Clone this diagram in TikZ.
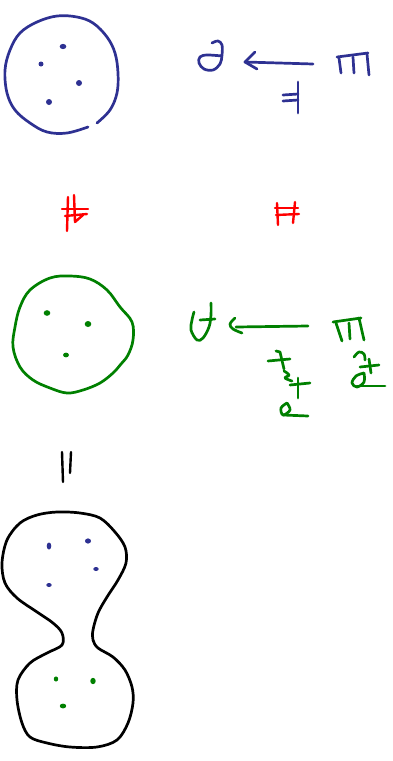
\documentclass[tikz,border=0pt]{standalone}
\definecolor{inkblue}{RGB}{46,49,146}
\definecolor{inkgreen}{RGB}{0,128,0}
\definecolor{inkred}{RGB}{255,0,0}
\begin{document}
\begin{tikzpicture}[x=1pt,y=-1pt,
  ink/.style={line width=2.7pt,line cap=round,line join=round},
  thinink/.style={line width=2.4pt,line cap=round,line join=round}]
\useasboundingbox (0,0) rectangle (393,761);
% ---------- blue set ----------
\draw[ink,inkblue] plot[smooth,tension=0.6] coordinates {(97,123) (110,110) (117,93) (118,73) (115,53) (107,37) (93,23) (77,17) (57,16) (37,22) (20,33) (10,50) (5,70) (7,93) (15,110) (30,123) (47,132) (67,133) (88,127)};
\fill[inkblue] (63,46.5) ellipse[x radius=3.3pt,y radius=2.6pt];
\fill[inkblue] (41,64) circle[radius=2.5pt];
\fill[inkblue] (79,83) circle[radius=3pt];
\fill[inkblue] (49,102) circle[radius=3pt];
% blue label
\draw[ink,inkblue] plot[smooth,tension=0.6] coordinates {(212,43) (218,41) (222,45) (222,55) (220,64) (213,70) (204,69) (199,63) (200,57) (207,55) (222,56)};
\coordinate (bs) at (313,64);
\coordinate (bt) at (245,62);
\draw[ink,inkblue] (bs) -- (bt);
\draw[ink,inkblue] (255,52) -- (bt) -- (257,69);
\draw[ink,inkblue] (337,57) -- (368,53);
\draw[ink,inkblue] (339,58) -- (341,73);
\draw[ink,inkblue] (353,57) -- (354,73);
\draw[ink,inkblue] (367,54) -- (369,75);
\draw[ink,inkblue] (298,82) -- (298,113);
\draw[ink,inkblue] (283,95) -- (298,94);
\draw[ink,inkblue] (283,101) -- (298,100);
% ---------- red hashes ----------
\draw[thinink,inkred] (68,197) -- (67,231);
\draw[thinink,inkred] (74,195) -- (75,222) -- (83,215);
\draw[thinink,inkred] (62,209) -- (88,209);
\draw[thinink,inkred] (65,216) -- (87,214);
\draw[thinink,inkred] (277,203) -- (278,225);
\draw[thinink,inkred] (295,202) -- (293,223);
\draw[thinink,inkred] (275,208) -- (298,208);
\draw[thinink,inkred] (276,215) -- (299,214);
% ---------- green set ----------
\draw[ink,inkgreen] plot[smooth cycle,tension=0.6] coordinates {(50,278) (70,276) (90,279) (107,290) (120,307) (132,322) (133,340) (128,355) (121,364) (113,373) (100,383) (83,390) (67,393) (50,388) (33,380) (20,367) (13,347) (15,327) (20,307) (30,290)};
\fill[inkgreen] (47,313) ellipse[x radius=3.3pt,y radius=2.8pt];
\fill[inkgreen] (88,324) ellipse[x radius=3.3pt,y radius=3pt];
\fill[inkgreen] (66,355) ellipse[x radius=3pt,y radius=2.4pt];
% green label
\draw[ink,inkgreen] plot[smooth,tension=0.6] coordinates {(194,312) (192,320) (191,330) (197,340) (203,338) (209,327) (211,315) (211,303)};
\draw[ink,inkgreen] (200,320) -- (215,319);
\coordinate (gs) at (308,326);
\coordinate (gt) at (236,327);
\draw[ink,inkgreen] (gs) -- (gt);
\draw[ink,inkgreen] plot[smooth,tension=0.6] coordinates {(235,318) (230,324) (233,329) (242,333)};
\draw[ink,inkgreen] (333,322) -- (361,318);
\draw[ink,inkgreen] (336,323) -- (342,341);
\draw[ink,inkgreen] (349,323) -- (350,339);
\draw[ink,inkgreen] (359,318) -- (364,340);
\draw[ink,inkgreen] plot[smooth,tension=0.6] coordinates {(354,357) (359,352) (364,354) (365,360)};
\draw[ink,inkgreen] (369,359) -- (371,373);
\draw[ink,inkgreen] (360,367) -- (379,365);
\draw[ink,inkgreen] plot[smooth,tension=0.6] coordinates {(364,373) (356,376) (352,383) (357,387) (364,382) (364,373)};
\draw[ink,inkgreen] (357,386) -- (385,386);
\draw[ink,inkgreen] (268,361) -- (290,359);
\draw[ink,inkgreen] (276,351) -- (280,352) -- (284,369);
\draw[ink,inkgreen] plot[smooth,tension=0.6] coordinates {(284,371) (289,375) (285,378) (292,381)};
\draw[ink,inkgreen] (290,385) -- (310,383);
\draw[ink,inkgreen] (298,378) -- (298,398);
\draw[ink,inkgreen] plot[smooth,tension=0.6] coordinates {(287,403) (281,408) (283,415) (290,410) (287,403)};
\draw[ink,inkgreen] (283,415) -- (308,416);
% ---------- equals ----------
\draw[thinink,black] (62,452) -- (63,482);
\draw[thinink,black] (71,452) -- (70,473);
% ---------- union shape ----------
\draw[ink,black] plot[smooth cycle,tension=0.55] coordinates {(57,512) (80,513) (100,518) (115,532) (125,547) (126,563) (118,580) (107,597) (98,613) (93,630) (93,640) (98,648) (113,657) (125,670) (132,687) (133,703) (128,723) (117,740) (97,747) (70,747) (47,743) (30,737) (22,723) (17,700) (18,680) (30,663) (47,653) (62,645) (62,633) (53,623) (37,612) (17,598) (5,583) (2,563) (7,540) (20,523) (37,515)};
\fill[inkblue] (49,546) ellipse[x radius=2.3pt,y radius=3.5pt];
\fill[inkblue] (88,541) ellipse[x radius=3pt,y radius=2.6pt];
\fill[inkblue] (96,569) ellipse[x radius=2.7pt,y radius=2pt];
\fill[inkblue] (49,585) ellipse[x radius=2.7pt,y radius=2pt];
\fill[inkgreen] (56,679) ellipse[x radius=2.2pt,y radius=2.6pt];
\fill[inkgreen] (93,681) ellipse[x radius=2.7pt,y radius=3.2pt];
\fill[inkgreen] (63,706) ellipse[x radius=3.2pt,y radius=2.4pt];
\end{tikzpicture}
\end{document}
